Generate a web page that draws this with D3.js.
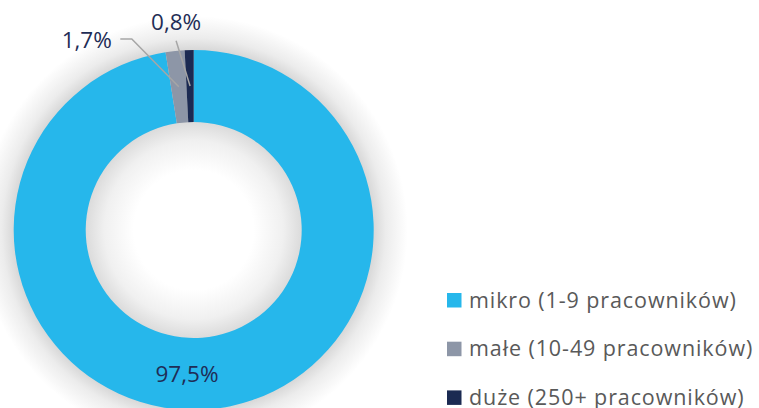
<!DOCTYPE html>
<html lang="pl">
<head>
<meta charset="UTF-8" />
<title>Struktura przedsiębiorstw</title>
<script src="https://d3js.org/d3.v7.min.js"></script>
<style>
  html, body { margin: 0; padding: 0; background: #fff; }
  svg { display: block; }
  text { font-family: "Open Sans", sans-serif; }
</style>
</head>
<body>
<svg id="chart" width="759" height="408"></svg>
<script>
// data
const categories = ['mikro (1-9 pracowników)', 'małe (10-49 pracowników)', 'duże (250+ pracowników)']
const values = [97.5, 1.7, 0.8]
const labels = ['97,5%', '1,7%', '0,8%']
const colors = ['#26b7eb', '#8d96a7', '#1b2a52']

const svg = d3.select('#chart')
const cx = 193.7, cy = 230
const outerR = 180, innerR = 108
const glowR = outerR + 34

// shadow: fade outside the ring and inside the hole
const defs = svg.append('defs')
const outerGrad = defs.append('radialGradient').attr('id', 'outerGlow')
  .attr('cx', 0.5).attr('cy', 0.5).attr('r', 0.5)
outerGrad.selectAll('stop')
  .data([[0, '#d8d8d8'], [outerR / glowR, '#d8d8d8'], [(outerR + 12) / glowR, '#ececec'], [1, '#ffffff']])
  .enter().append('stop')
  .attr('offset', d => d[0]).attr('stop-color', d => d[1])
const holeGrad = defs.append('radialGradient').attr('id', 'holeShade')
  .attr('cx', 0.5).attr('cy', 0.5).attr('r', 0.5)
holeGrad.selectAll('stop')
  .data([[0, '#ffffff'], [0.55, '#ffffff'], [0.82, '#f0f0f0'], [1, '#dadada']])
  .enter().append('stop')
  .attr('offset', d => d[0]).attr('stop-color', d => d[1])

const g = svg.append('g').attr('transform', `translate(${cx},${cy})`)

g.append('circle').attr('r', glowR).attr('fill', 'url(#outerGlow)')
g.append('circle').attr('r', innerR + 1).attr('fill', 'url(#holeShade)')

const pie = d3.pie().sort(null).value(d => d)
const arcs = pie(values)
const arc = d3.arc().innerRadius(innerR).outerRadius(outerR)

g.selectAll('path.slice')
  .data(arcs)
  .enter()
  .append('path')
  .attr('class', 'slice')
  .attr('d', arc)
  .attr('fill', (d, i) => colors[i])

// labels
const big = arc.centroid(arcs[0])
g.append('text')
  .attr('x', big[0] - 18)
  .attr('y', big[1] + 8)
  .attr('text-anchor', 'middle')
  .attr('font-size', 22.5)
  .attr('fill', '#1f2d56')
  .text(labels[0])

// leader lines for the thin slices
const c1 = arc.centroid(arcs[1])
const c2 = arc.centroid(arcs[2])
const lineColor = '#a6a6a6'
g.append('polyline')
  .attr('points', [[c1[0] - 58.5, c1[1] - 47.8], [c1[0] - 47, c1[1] - 47.8], c1].map(p => p.join(',')).join(' '))
  .attr('fill', 'none')
  .attr('stroke', lineColor)
  .attr('stroke-width', 1.5)
g.append('text')
  .attr('x', c1[0] - 67)
  .attr('y', c1[1] - 39)
  .attr('text-anchor', 'end')
  .attr('font-size', 22.5)
  .attr('fill', '#1f2d56')
  .text(labels[1])

g.append('line')
  .attr('x1', c2[0] - 14).attr('y1', c2[1] - 45.3)
  .attr('x2', c2[0]).attr('y2', c2[1])
  .attr('stroke', lineColor)
  .attr('stroke-width', 1.5)
g.append('text')
  .attr('x', c2[0] - 14)
  .attr('y', c2[1] - 56)
  .attr('text-anchor', 'middle')
  .attr('font-size', 22.5)
  .attr('fill', '#1f2d56')
  .text(labels[2])

// legend
const legend = svg.append('g').attr('transform', 'translate(447,293)')
const item = legend.selectAll('g')
  .data(categories)
  .enter()
  .append('g')
  .attr('transform', (d, i) => `translate(0,${i * 48.7})`)
item.append('rect')
  .attr('width', 14.5).attr('height', 14.5)
  .attr('fill', (d, i) => colors[i])
item.append('text')
  .attr('x', 22)
  .attr('y', 14.5)
  .attr('font-size', 21.5)
  .attr('letter-spacing', 0.9)
  .attr('fill', '#595959')
  .text(d => d)
</script>
</body>
</html>
